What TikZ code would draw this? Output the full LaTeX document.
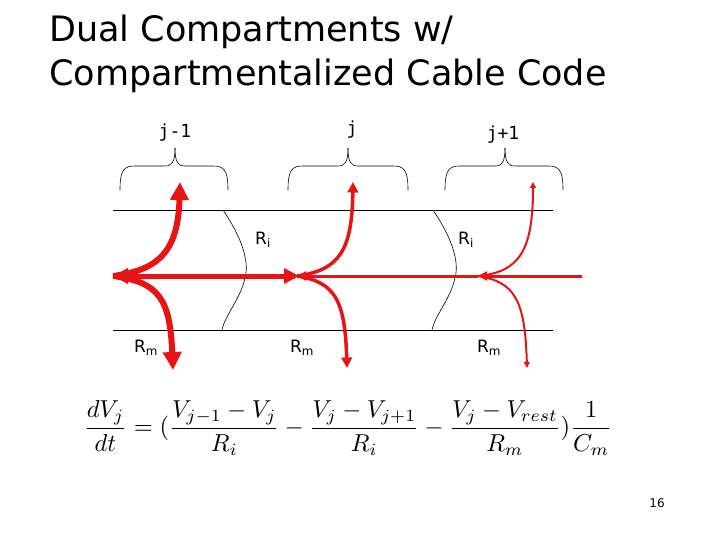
\documentclass[tikz,border=0pt]{standalone}
\usepackage{fontspec}
\setmainfont{Liberation Serif}
\newfontfamily\vsans{DejaVu Sans}
\newfontfamily\mono{DejaVu Sans Mono}
\usetikzlibrary{arrows.meta,calc}
\definecolor{ared}{RGB}{230,20,20}
\tikzset{
  wire/.style={black, line width=0.7pt},
  brc/.style={black, line width=0.6pt},
  lbl/.style={font=\vsans\fontsize{17}{19}\selectfont, inner sep=0pt},
  toplbl/.style={font=\mono\fontsize{18}{20}\selectfont, inner sep=0pt},
  flow/.style={ared, -{Triangle[length=#1*3pt, width=#1*3pt]}, line width=#1 pt},
}
\newcommand{\mybrace}[3]{% x1, x2, tip
  \draw[brc] (#1,190) .. controls (#1,170) and (#1+4,166) .. (#1+15,166) -- (#3-10,166) .. controls (#3-3,166) and (#3,162) .. (#3,148);
  \draw[brc] (#2,190) .. controls (#2,170) and (#2-4,166) .. (#2-15,166) -- (#3+10,166) .. controls (#3+3,166) and (#3,162) .. (#3,148);}
\begin{document}
\begin{tikzpicture}[x=1pt,y=-1pt]
\useasboundingbox (0,0) rectangle (720,540);
\node[anchor=west, font=\vsans\fontsize{35}{40}\selectfont, inner sep=0pt] (t1) at (49,32) {Dual Compartments w/};
\node[anchor=west, font=\vsans\fontsize{35}{40}\selectfont, inner sep=0pt] (t2) at (49,76) {Compartmentalized Cable Code};
% top labels
\node[toplbl] (l1) at (175,133) {j-1};
\node[toplbl] (l2) at (352,130) {j};
\node[toplbl] (l3) at (503,135) {j+1};
\mybrace{120}{228}{175}
\mybrace{288}{408}{348}
\mybrace{445}{563}{505}
% membrane lines
\coordinate (a1) at (113,210); \coordinate (a2) at (553,210);
\coordinate (b1) at (113,330); \coordinate (b2) at (553,330);
\draw[wire] (a1) -- (a2);
\draw[wire] (b1) -- (b2);
\draw[brc] (223,210) .. controls (240,235) and (250,260) .. (245,278) .. controls (240,300) and (225,315) .. (222,330);
\draw[brc] (433,210) .. controls (450,235) and (460,260) .. (455,278) .. controls (450,300) and (435,315) .. (432,330);
\node[lbl] (ri1) at (263,240) {R\textsubscript{i}};
\node[lbl] (ri2) at (466,240) {R\textsubscript{i}};
\node[lbl] (rm1) at (146,348) {R\textsubscript{m}};
\node[lbl] (rm2) at (302,348) {R\textsubscript{m}};
\node[lbl] (rm3) at (489,348) {R\textsubscript{m}};
% flows
\coordinate (c1) at (113,276); \coordinate (c2) at (297,276); \coordinate (c3) at (478,276); \coordinate (c4) at (582,276);
\draw[flow=3] (c4) -- (c3);
\draw[flow=3] (c3) -- (c2);
\draw[flow=5] ($(c2)+(-2,0)$) -- (c1);
\draw[flow=5] ($(c1)+(40,0)$) -- ($(c2)+(2,0)$);
\draw[flow=6] (c1) .. controls (160,270) and (178,250) .. (180,182);
\draw[flow=6] (c1) .. controls (160,282) and (170,300) .. (173,370);
\draw[flow=3.5] (c2) .. controls (340,270) and (352,250) .. (353,182);
\draw[flow=3.5] (c2) .. controls (335,282) and (345,300) .. (347,368);
\draw[flow=2] (c3) .. controls (520,272) and (533,250) .. (533,182);
\draw[flow=2] (c3) .. controls (515,282) and (525,300) .. (527,368);
% equation
\node[inner sep=0pt] (eq) at (348,428) {\scalebox{2.45}{$\displaystyle \frac{dV_j}{dt}=(\frac{V_{j-1}-V_j}{R_i}-\frac{V_j-V_{j+1}}{R_i}-\frac{V_j-V_{rest}}{R_m})\frac{1}{C_m}$}};
\node[font=\vsans\fontsize{12}{14}\selectfont, inner sep=0pt] (pg) at (657,503) {16};
\end{tikzpicture}
\end{document}
